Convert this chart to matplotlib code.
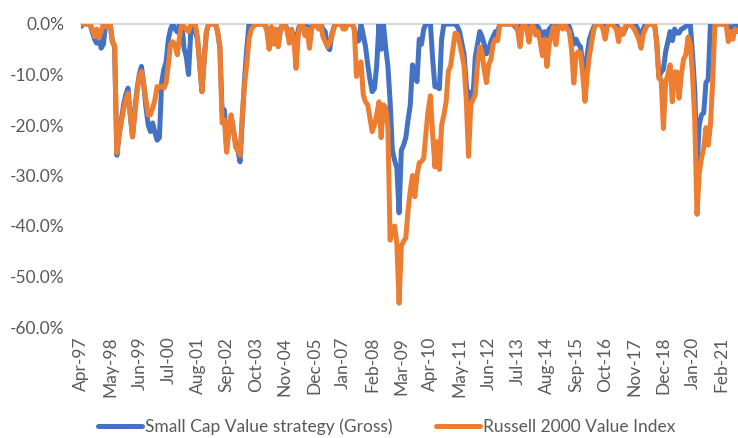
import matplotlib
matplotlib.use("Agg")
import matplotlib.pyplot as plt
from matplotlib.ticker import FuncFormatter
import numpy as np

# Monthly drawdowns (%) from Apr-97 to Sep-21
strategy = (
    [-0.5, 0, 0, 0, 0, -1.5, -3.0, -3.8, -2.5] +                                   # 1997 Apr-Dec
    [-4.8, -4.0, 0, 0, 0, -3.5, -4.5, -26.0, -22.0, -19.0, -16.0, -14.0] +          # 1998
    [-12.7, -18.0, -22.3, -17.0, -13.0, -10.0, -8.4, -12.0, -16.5, -20.0, -21.3, -19.6] +  # 1999
    [-21.5, -23.0, -22.5, -11.6, -9.0, -7.5, -3.0, -1.0, 0, -1.0, -1.6, 0] +        # 2000
    [0, -4.8, -6.5, -10.0, -1.6, 0, -1.5, -3.0, -8.0, -13.4, -7.0, -1.5] +          # 2001
    [0, 0, 0, 0, -1.5, -4.8, -17.4, -17.0, -24.6, -21.0, -18.7, -21.0] +            # 2002
    [-23.5, -25.0, -27.3, -19.0, -11.0, -5.0, 0, 0, 0, 0, 0, 0] +                   # 2003
    [0, 0, -1.0, -2.0, -3.0, -1.0, -2.0, -4.4, -1.0, 0, 0, -1.0] +                  # 2004
    [-2.5, -1.5, -2.0, -7.0, -1.0, 0, 0, -1.0, -0.5, -3.0, -0.5, 0] +               # 2005
    [0, 0, 0, -1.0, -1.5, -4.5, -5.1, -2.0, -0.5, 0, 0, 0] +                        # 2006
    [0, 0, 0, 0, 0, -1.0, -3.5, -3.3, 0, -2.2, -4.4, -8.0] +                        # 2007
    [-11.0, -13.4, -12.8, -8.3, 0, -5.0, 0, -4.6, -8.3, -15.4, -25.0, -27.0] +      # 2008
    [-28.5, -37.4, -25.0, -24.0, -22.5, -19.0, -16.0, -8.1, -9.5, -11.4, -3.0, -4.0] +  # 2009
    [-1.0, 0, 0, 0, -7.0, -12.4, -12.5, -12.8, -3.0, 0, 0, 0] +                     # 2010
    [0, 0, 0, -0.5, -1.5, -3.8, -6.0, -12.0, -15.5, -13.5, -14.5, -6.6] +           # 2011
    [-4.0, -1.5, -2.5, -4.0, -5.9, -5.0, -3.5, -2.5, -1.5, -1.5, 0, 0] +            # 2012
    [0, 0, 0, 0, 0, -0.7, -0.5, -1.0, 0, 0, -0.5, -1.0] +                           # 2013
    [0, 0, -0.5, -0.5, -1.5, -3.3, -1.5, -2.5, -1.0, -0.5, 0, -1.0] +               # 2014
    [0, 0, 0, 0, 0, -0.5, -2.0, -4.0, -3.0, -4.0, -4.5, -8.0] +                     # 2015
    [-11.0, -6.0, -3.0, -1.6, -0.5, 0, 0, 0, 0, -1.0, 0, 0] +                       # 2016
    [0, 0, 0, -1.5, -1.0, -2.0, -1.0, 0, 0, 0, 0, -0.5] +                           # 2017
    [-1.5, -2.0, -1.0, 0, 0, 0, 0, 0, -3.5, -10.5, -9.5, -9.0] +                    # 2018
    [-5.5, -3.5, -1.5, -3.3, -1.0, -1.8, -1.8, -1.0, -0.8, -0.5, 0, 0] +            # 2019
    [-6.0, -13.0, -28.0, -20.0, -18.0, -17.6, -11.6, -11.0, 0, 0, 0, 0] +           # 2020
    [0, 0, 0, 0, -2.5, -0.5, -2.0, 0, -0.5]                                         # 2021 Jan-Sep
)

russell = (
    [0, 0, 0, 0, 0, -1.0, -2.5, -1.0, -2.8] +                                       # 1997 Apr-Dec
    [-1.5, 0, -0.5, 0, 0, -3.5, -4.2, -25.5, -22.0, -19.5, -17.0, -15.0] +          # 1998
    [-13.7, -18.0, -22.4, -18.0, -13.5, -10.5, -9.4, -12.0, -15.0, -18.0, -18.0, -16.6] +  # 1999
    [-15.0, -12.4, -12.5, -12.3, -12.7, -11.6, -8.0, -4.0, -3.5, -4.2, -6.1, -2.5] +  # 2000
    [0, -0.5, -1.0, -1.5, 0, 0, 0, -2.5, -8.0, -13.4, -7.0, -1.5] +                 # 2001
    [0, 0, 0, 0, -1.5, -4.5, -19.6, -19.0, -25.4, -21.0, -18.0, -20.5] +            # 2002
    [-24.4, -25.0, -26.0, -18.0, -12.0, -8.0, -3.0, -1.0, -0.5, 0, 0, 0] +          # 2003
    [0, 0, -1.5, -5.0, -0.5, -4.0, -1.0, -4.5, -1.5, 0, 0, -1.5] +                  # 2004
    [-3.8, -1.0, -3.0, -8.8, -2.0, 0, 0, -2.3, -1.0, -4.8, -1.0, 0] +               # 2005
    [0, -1.0, 0, -2.5, -3.5, -4.5, -3.8, -2.5, -0.7, 0, 0, 0] +                     # 2006
    [-1.0, -1.0, 0, 0, 0, -1.0, -10.4, -8.1, -7.5, -14.0, -15.4, -16.0] +           # 2007
    [-18.7, -21.3, -20.0, -18.0, -15.4, -22.5, -16.0, -16.5, -20.3, -42.8, -40.5, -40.0] +  # 2008
    [-43.5, -55.3, -44.0, -43.0, -42.4, -37.0, -33.0, -30.0, -34.2, -30.0, -27.5, -27.2] +  # 2009
    [-26.6, -21.6, -17.0, -14.2, -22.0, -28.3, -23.3, -28.8, -20.0, -18.0, -15.4, -9.3] +   # 2010
    [-8.3, -5.0, -1.8, -2.0, -3.8, -5.9, -8.3, -15.0, -26.2, -16.0, -15.0, -14.0] +  # 2011
    [-8.0, -4.5, -5.5, -9.0, -11.6, -8.0, -7.0, -4.0, -3.0, -3.3, 0, 0] +           # 2012
    [0, 0, 0, 0, 0, 0, -1.5, -4.5, -0.5, 0, -1.0, -3.6] +                           # 2013
    [-0.5, -0.5, -2.2, -1.5, -3.5, -6.3, -3.0, -8.4, -4.0, -2.2, -0.5, -4.1] +      # 2014
    [-0.5, 0, -1.0, 0, -1.0, -1.5, -5.0, -11.7, -6.0, -5.5, -5.8, -10.0] +          # 2015
    [-15.3, -10.0, -6.1, -3.5, -1.0, 0, 0, 0, -1.0, -3.0, -0.5, 0] +                # 2016
    [0, -0.5, -1.0, -3.5, -1.0, -2.0, -0.5, 0, 0, -0.5, -1.0, -2.0] +               # 2017
    [-3.0, -4.8, -2.0, -1.0, 0, 0, 0, 0, -3.5, -10.8, -11.0, -20.7] +               # 2018
    [-11.6, -10.0, -8.1, -15.4, -9.5, -9.5, -14.7, -10.0, -7.0, -6.1, -2.6, -4.0] +  # 2019
    [-10.0, -19.0, -37.7, -29.5, -26.6, -24.5, -20.5, -24.0, -20.0, -11.4, 0, 0] +  # 2020
    [0, 0, 0, 0, -3.5, -1.5, -3.0, -1.0, -1.5]                                      # 2021 Jan-Sep
)

tick_labels = ["Apr-97", "May-98", "Jun-99", "Jul-00", "Aug-01", "Sep-02", "Oct-03",
               "Nov-04", "Dec-05", "Jan-07", "Feb-08", "Mar-09", "Apr-10", "May-11",
               "Jun-12", "Jul-13", "Aug-14", "Sep-15", "Oct-16", "Nov-17", "Dec-18",
               "Jan-20", "Feb-21"]
series_names = ["Small Cap Value strategy (Gross)", "Russell 2000 Value Index"]
colors = ["#4472C4", "#ED7D31"]

plt.rcParams['font.family'] = ['Lato', 'DejaVu Sans']
W, H = 738, 438
fig = plt.figure(figsize=(W / 100, H / 100), dpi=100)
ax = fig.add_axes([81 / W, (H - 327) / H, (W - 81) / W, (327 - 24) / H])

months = np.arange(len(strategy))
l1, = ax.plot(months, strategy, color=colors[0], lw=3.6, solid_joinstyle='round',
              solid_capstyle='round', label=series_names[0], zorder=3)
l2, = ax.plot(months, russell, color=colors[1], lw=3.6, solid_joinstyle='round',
              solid_capstyle='round', label=series_names[1], zorder=4)

ax.set_xlim(0, (W - 81) / 2.24)
ax.set_ylim(-60, 0)
ax.set_yticks(np.arange(-60, 1, 10))
ax.yaxis.set_major_formatter(FuncFormatter(lambda v, p: f"{v:.1f}%"))
ax.set_xticks(np.arange(0, 13 * len(tick_labels), 13))
ax.set_xticklabels(tick_labels, rotation=90, va='top', ha='center')

for s in ['left', 'right', 'bottom']:
    ax.spines[s].set_visible(False)
ax.spines['top'].set_color('#D9D9D9')
ax.spines['top'].set_linewidth(1.5)
ax.tick_params(axis='both', length=0, colors='#595959', labelsize=12.5)
ax.tick_params(axis='y', pad=12)
ax.tick_params(axis='x', pad=7)

fig.legend(handles=[l1, l2], labels=series_names, loc='center',
           bbox_to_anchor=(387 / W, 11 / H), ncol=2, frameon=False,
           fontsize=12.5, handlelength=2.5, handletextpad=0.2, columnspacing=2.5,
           labelcolor='#595959')

fig.savefig("out.png", dpi=100)
